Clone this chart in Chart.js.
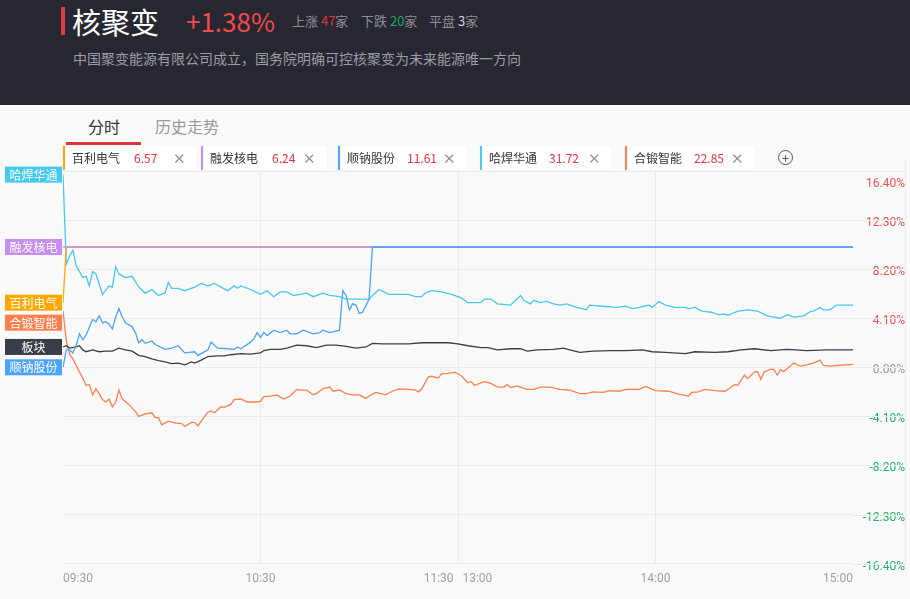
<!DOCTYPE html>
<html>
<head>
<meta charset="utf-8">
<script src="https://cdn.jsdelivr.net/npm/chart.js@4.4.1/dist/chart.umd.min.js"></script>
<style>
body{margin:0;width:910px;height:599px;overflow:hidden;background:#fafafa;position:relative;
  font-family:"Noto Sans CJK SC","Noto Sans",sans-serif;}
.head{position:absolute;left:0;top:0;width:910px;height:105px;background:#272732;}
.bar{position:absolute;left:61px;top:7px;width:4px;height:28px;background:#e8394a;}
.title{position:absolute;left:72px;top:4px;font-size:29px;line-height:34px;color:#fff;}
.pct{position:absolute;left:186px;top:5px;font-size:26px;line-height:32px;color:#f04a4a;}
.stat{position:absolute;top:12px;font-size:13px;line-height:18px;color:#8e8e99;}
.stat b{font-weight:normal;}
.sub{position:absolute;left:73px;top:48px;font-size:14px;line-height:20px;color:#9c9ca6;}
.tab{position:absolute;top:115px;font-size:16px;line-height:22px;}
.uline{position:absolute;left:66px;top:142px;width:75px;height:3px;background:#e23440;}
.chip{position:absolute;top:146px;height:24px;background:#fff;box-sizing:border-box;
  border-left:2px solid #000;font-size:12px;line-height:24px;color:#333;z-index:2;
  box-shadow:0 0 1px rgba(0,0,0,0.12);}
.chip .n{position:absolute;left:7px;}
.chip .p{position:absolute;color:#e8323c;}
.chip .x{position:absolute;right:11px;top:0;color:#999;font-size:15px;font-weight:300;}
.plus{position:absolute;left:778px;top:150px;width:13px;height:13px;border:1px solid #555;border-radius:50%;
  font-size:13px;line-height:13px;text-align:center;color:#555;z-index:2;}
#wrap{position:absolute;left:0;top:160px;width:910px;height:439px;}
</style>
</head>
<body>
<div class="head">
  <div class="bar"></div>
  <div class="title">核聚变</div>
  <div class="pct">+1.38%</div>
  <div class="stat" style="left:292px">上涨 <b style="color:#e8323c">47</b>家</div>
  <div class="stat" style="left:361px">下跌 <b style="color:#17a966">20</b>家</div>
  <div class="stat" style="left:429px">平盘 <b style="color:#d8d8de">3</b>家</div>
  <div class="sub">中国聚变能源有限公司成立，国务院明确可控核聚变为未来能源唯一方向</div>
</div>
<div class="tab" style="left:88px;color:#333">分时</div>
<div class="tab" style="left:155px;color:#999">历史走势</div>
<div class="uline"></div>
<div id="chips"></div>
<div class="plus">+</div>
<div id="wrap"><canvas id="c"></canvas></div>
<script>
// minute index from 09:30 (0) to 15:00 (240), value in %
const hahan = [[0,16.1],[1,8.6],[2,9.3],[3,9.8],[4,8.5],[6,7.5],[7,7.6],[8,6.8],[9,8.0],[10,7.8],[12,6.1],[14,6.8],[15,6.7],[16,8.4],[17,7.8],[19,7.5],[21,7.6],[23,6.7],[25,6.2],[27,6.5],[29,6.0],[31,6.2],[32,7.1],[33,6.6],[35,6.6],[37,6.4],[40,6.7],[42,7.0],[44,6.8],[46,7.0],[48,6.7],[50,6.4],[52,6.8],[53,6.6],[54,6.8],[57,6.5],[60,6.1],[62,6.4],[64,5.9],[66,6.3],[68,6.3],[70,6.0],[72,6.1],[74,6.2],[76,5.9],[79,6.2],[81,6.0],[84,5.9],[86,5.7],[89,5.7],[93,5.7],[94,6.0],[96,6.5],[99,6.1],[102,6.1],[105,6.1],[107,5.9],[109,5.9],[110,6.2],[112,6.4],[115,6.3],[118,6.1],[121,5.8],[123,5.4],[127,5.4],[128,5.7],[130,5.7],[132,5.3],[136,5.2],[139,6.0],[140,5.6],[142,5.3],[143,5.6],[145,5.4],[147,5.5],[149,5.3],[151,5.2],[153,5.3],[156,5.0],[159,4.8],[160,5.2],[164,5.1],[168,5.0],[171,5.1],[173,4.9],[175,5.0],[178,5.2],[179,5.0],[181,5.5],[183,5.2],[186,5.0],[189,5.0],[190,4.9],[192,5.0],[194,4.7],[197,4.6],[199,4.4],[201,4.45],[202,4.35],[205,4.7],[208,4.8],[211,4.7],[214,4.3],[216,4.2],[218,4.1],[220,4.4],[222,4.2],[225,4.3],[227,4.65],[228,4.7],[230,5.0],[231,4.8],[233,4.8],[235,5.2],[240,5.2]];
const shunna = [[0,0.0],[1,1.45],[2,1.45],[3,1.2],[4,1.8],[5,2.8],[6,2.3],[7,2.7],[9,4.0],[10,3.8],[11,4.3],[12,3.7],[13,3.8],[14,3.6],[15,3.2],[16,4.2],[17,4.9],[18,4.2],[19,3.7],[21,3.4],[22,2.9],[23,2.05],[24,2.3],[25,2.0],[27,2.2],[28,1.9],[31,1.5],[33,1.6],[35,1.8],[37,1.2],[40,1.3],[41,1.0],[44,1.45],[45,2.1],[47,1.6],[50,1.55],[52,1.5],[53,1.7],[54,1.55],[57,2.1],[58,2.4],[59,2.9],[60,2.5],[61,2.9],[62,2.65],[64,3.1],[66,2.9],[68,3.1],[69,2.8],[71,2.8],[73,3.1],[76,2.8],[78,2.9],[79,3.1],[81,2.9],[84,3.1],[85,6.4],[86,6.0],[87,4.8],[88,5.3],[89,5.2],[90,4.5],[91,4.6],[93,5.7],[94,10.05],[240,10.05]];
const bankuai = [[0,1.7],[1,1.8],[2,1.6],[4,1.7],[5,1.8],[6,1.45],[7,1.3],[9,1.45],[11,1.3],[13,1.35],[15,1.35],[17,1.6],[19,1.45],[21,1.35],[23,1.0],[25,0.9],[27,0.7],[29,0.55],[31,0.45],[33,0.3],[35,0.35],[37,0.2],[39,0.45],[40,0.35],[42,0.6],[44,0.9],[47,0.95],[49,0.95],[51,1.05],[54,1.15],[57,1.1],[60,1.2],[61,1.4],[63,1.5],[66,1.5],[68,1.6],[71,1.85],[74,1.8],[77,1.65],[80,1.85],[83,1.85],[86,1.75],[89,1.6],[92,1.7],[94,2.0],[97,1.95],[101,1.95],[105,1.95],[109,2.05],[113,2.05],[117,2.05],[120,1.95],[123,1.8],[127,1.65],[129,1.65],[132,1.45],[136,1.55],[139,1.55],[141,1.35],[144,1.45],[149,1.5],[152,1.6],[154,1.45],[157,1.25],[161,1.35],[166,1.4],[171,1.4],[176,1.45],[179,1.3],[183,1.25],[189,1.15],[192,1.3],[198,1.25],[202,1.3],[206,1.45],[210,1.55],[215,1.4],[220,1.5],[226,1.4],[232,1.45],[240,1.45]];
const heduan = [[0,4.7],[1,2.2],[2,1.1],[3,0.7],[4,0.15],[5,-0.4],[6,-0.9],[7,-1.5],[8,-1.45],[9,-2.3],[10,-1.8],[11,-2.2],[12,-2.7],[13,-2.9],[14,-2.65],[15,-3.3],[16,-2.9],[17,-1.9],[18,-2.65],[20,-3.1],[22,-3.7],[23,-4.1],[25,-3.9],[27,-3.8],[28,-4.2],[29,-4.2],[30,-4.8],[32,-4.5],[34,-4.65],[36,-4.7],[37,-4.95],[39,-4.6],[40,-4.6],[41,-4.9],[42,-4.5],[44,-3.75],[45,-3.65],[46,-3.8],[48,-3.3],[49,-3.35],[51,-3.1],[52,-2.7],[54,-2.65],[56,-2.9],[58,-2.9],[60,-2.85],[61,-2.45],[63,-2.4],[65,-2.3],[67,-2.65],[69,-2.4],[71,-1.85],[72,-1.9],[74,-1.9],[76,-2.3],[77,-2.2],[79,-1.8],[81,-1.65],[82,-2.0],[84,-1.9],[86,-2.2],[88,-2.3],[90,-2.3],[92,-2.6],[93,-2.4],[95,-2.1],[98,-2.3],[100,-2.0],[102,-1.8],[105,-1.85],[107,-1.9],[108,-2.05],[109,-1.8],[111,-0.8],[112,-0.75],[114,-0.9],[115,-0.55],[117,-0.5],[119,-0.4],[121,-0.7],[122,-1.0],[123,-1.3],[124,-1.2],[125,-1.5],[128,-1.2],[130,-1.35],[132,-1.65],[134,-1.65],[135,-1.45],[136,-1.7],[138,-1.55],[141,-1.85],[143,-1.85],[145,-1.65],[148,-1.65],[151,-1.85],[154,-1.9],[157,-2.2],[159,-2.2],[161,-2.05],[164,-2.1],[166,-1.95],[169,-2.0],[171,-1.85],[175,-1.85],[177,-1.6],[180,-1.95],[184,-2.0],[187,-2.25],[190,-2.4],[191,-2.1],[193,-2.05],[195,-1.85],[198,-1.95],[201,-2.0],[202,-1.85],[204,-1.45],[205,-1.5],[207,-0.65],[208,-0.95],[210,-0.4],[211,-0.35],[212,-1.0],[213,-0.4],[215,-0.15],[216,-0.2],[217,-0.65],[218,-0.2],[219,-0.35],[222,0.35],[224,0.1],[226,0.2],[228,0.35],[230,0.6],[231,0.15],[233,0.1],[235,0.15],[240,0.25]];
const baili = [[0,5.4],[1,10.05],[240,10.05]];
const rongfa = [[0,10.05],[240,10.05]];

const yTicks = [16.4, 12.3, 8.2, 4.1, 0, -4.1, -8.2, -12.3, -16.4];
const xTickMins = [0, 60, 120, 180, 240];
const xTickLabels = ['09:30', '10:30', '11:30   13:00', '14:00', '15:00'];

const stocks = [
  {name:'百利电气', price:'6.57', color:'#ffa800', data:baili, left:63, w:134, order:3},
  {name:'融发核电', price:'6.24', color:'#c58ef0', data:rongfa, left:201, w:126, order:2},
  {name:'顺钠股份', price:'11.61', color:'#4ba3fb', data:shunna, left:338, w:129, order:1},
  {name:'哈焊华通', price:'31.72', color:'#45c9ee', data:hahan, left:480, w:132, order:5},
  {name:'合锻智能', price:'22.85', color:'#ff7f4d', data:heduan, left:625, w:130, order:5}
];
const sector = {name:'板块', color:'#3a3e4a', data:bankuai, order:4};

// legend chips
var chips = document.getElementById('chips');
stocks.forEach(function(s){
  var d = document.createElement('div');
  d.className = 'chip';
  d.style.left = s.left + 'px';
  d.style.width = s.w + 'px';
  d.style.borderLeftColor = s.color;
  d.innerHTML = '<span class="n">' + s.name + '</span><span class="p" style="left:' + (s.price.length > 4 ? 67 : 69) + 'px">' + s.price + '</span><span class="x">✕</span>';
  chips.appendChild(d);
});

var all = stocks.concat([sector]);

// grid lines run on under the right-hand labels
var gridRun = {
  id: 'gridRun',
  beforeDatasetsDraw: function(chart) {
    var ctx = chart.ctx, y = chart.scales.y, a = chart.chartArea;
    ctx.save();
    ctx.strokeStyle = '#ececec';
    ctx.lineWidth = 1;
    yTicks.forEach(function(v){
      var py = Math.round(y.getPixelForValue(v)) + 0.5;
      ctx.beginPath(); ctx.moveTo(a.right, py); ctx.lineTo(905, py); ctx.stroke();
    });
    ctx.beginPath(); ctx.moveTo(905.5, 0); ctx.lineTo(905.5, a.bottom + 3); ctx.stroke();
    ctx.restore();
  }
};

var sideLabels = {
  id: 'sideLabels',
  afterDraw: function(chart) {
    var ctx = chart.ctx, y = chart.scales.y;
    var items = all.map(function(s){
      return {s: s, py: y.getPixelForValue(s.data[0][1])};
    }).sort(function(a, b){ return a.py - b.py; });
    var last = -100;
    ctx.save();
    ctx.font = '12px "Noto Sans CJK SC"';
    ctx.textAlign = 'center';
    ctx.textBaseline = 'middle';
    items.forEach(function(it){
      var py = Math.max(it.py, last + 20);
      last = py;
      ctx.fillStyle = it.s.color;
      ctx.fillRect(5, py - 8, 57, 16);
      ctx.fillStyle = '#fff';
      ctx.fillText(it.s.name, 33.5, py + 0.5);
    });
    ctx.restore();
  }
};

new Chart(document.getElementById('c'), {
  type: 'line',
  data: {
    datasets: all.map(function(s){
      return {
        label: s.name,
        data: s.data.map(function(p){ return {x: p[0], y: p[1]}; }),
        borderColor: s.color,
        borderWidth: 1.3,
        pointRadius: 0,
        tension: 0,
        order: s.order
      };
    })
  },
  options: {
    animation: false,
    responsive: true,
    maintainAspectRatio: false,
    layout: {padding: {left: 63, top: 11, right: 5, bottom: 5}},
    plugins: {legend: {display: false}, tooltip: {enabled: false}},
    scales: {
      x: {
        type: 'linear', min: 0, max: 240,
        afterBuildTicks: function(scale){ scale.ticks = xTickMins.map(function(v){ return {value: v}; }); },
        afterFit: function(scale){ scale.paddingLeft = 0; scale.paddingRight = 0; },
        grid: {
          drawTicks: false,
          color: function(c){ return (c.index === 0 || c.index === xTickMins.length - 1) ? 'rgba(0,0,0,0)' : '#ececec'; }
        },
        border: {display: false},
        ticks: {
          align: 'inner', padding: 8, color: '#a0a0a0', maxRotation: 0, autoSkip: false,
          font: {family: 'Roboto', size: 12},
          callback: function(v, i){ return xTickLabels[i]; }
        }
      },
      y: {
        type: 'linear', position: 'right', min: -16.4, max: 16.4,
        afterBuildTicks: function(scale){ scale.ticks = yTicks.map(function(v){ return {value: v}; }); },
        afterFit: function(scale){ scale.width = 52; scale.paddingTop = 0; scale.paddingBottom = 0; },
        grid: {color: '#ececec', drawTicks: false},
        border: {display: false},
        ticks: {
          crossAlign: 'far', padding: 5, labelOffset: 3, autoSkip: false,
          font: {family: 'Roboto', size: 12, lineHeight: 1.67},
          color: function(c){
            var v = c.tick.value;
            return v > 0 ? '#f05050' : (v < 0 ? '#1fb46c' : '#999');
          },
          callback: function(v){
            var t = v.toFixed(2) + '%';
            return v === yTicks[0] ? ['', t] : t;
          }
        }
      }
    }
  },
  plugins: [gridRun, sideLabels]
});
</script>
</body>
</html>
